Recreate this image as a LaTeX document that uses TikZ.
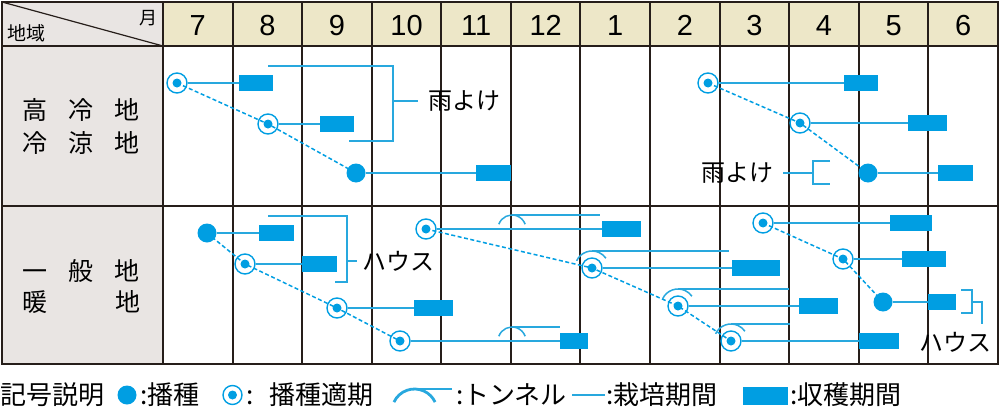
\documentclass[tikz,border=0pt]{standalone}
\usepackage{fontspec}
\setmainfont{Noto Sans CJK JP}
\newfontfamily\numfont{Liberation Sans}
\usepackage{xcolor}
\usepackage{tikz}
\usetikzlibrary{positioning,calc}

\definecolor{cropblue}{RGB}{0,158,226}
\definecolor{lineblue}{RGB}{40,168,222}
\definecolor{gridline}{RGB}{38,30,26}
\definecolor{headfill}{RGB}{237,231,200}
\definecolor{sidefill}{RGB}{233,229,227}

\tikzset{
    sowing/.style={circle, fill=cropblue, minimum size=19pt, inner sep=0pt},
    sowperiod/.style={circle, draw=cropblue, line width=1.4pt, minimum size=20pt, inner sep=0pt,
        path picture={\fill [cropblue] (path picture bounding box.center) circle (4.5pt);}},
    harvest/.style={fill=cropblue, minimum height=15.5pt, inner sep=0pt},
    growing/.style={draw=lineblue, line width=1.5pt},
    sowline/.style={draw=cropblue, line width=1.5pt, dash pattern=on 4pt off 2.5pt},
    gridrule/.style={draw=gridline, line width=2pt},
    txt/.style={font=\fontsize{24}{28}\selectfont, inner sep=0pt},
    legendtxt/.style={font=\fontsize{26}{28}\selectfont, inner sep=0pt, anchor=west},
    month/.style={font=\numfont\fontsize{29}{32}\selectfont, inner sep=0pt},
}

\begin{document}
\begin{tikzpicture}[x=1pt, y=1pt]
    \useasboundingbox (0, 0) rectangle (1000, -415);

    % Table
    \fill [headfill] (163, -2) rectangle (998, -46);
    \fill [sidefill] (2, -2) rectangle (163, -364);
    \foreach \i in {0,...,12} {
        \draw [gridrule] (163+69.58*\i, -2) -- (163+69.58*\i, -364);
    }
    \foreach \y in {2, 46, 206, 364} {
        \draw [gridrule] (1, -\y) -- (999, -\y);
    }
    \draw [gridrule] (2, -2) -- (2, -364);
    \draw [draw=gridline, line width=1.2pt] (2, -2) -- (163, -46);
    \node [txt, font=\fontsize{18}{20}\selectfont] (tsuki) at (148, -18) {月};
    \node [txt, font=\fontsize{19}{21}\selectfont] (chiiki) at (26, -33) {地域};
    \foreach \m [count=\i from 0] in {7, 8, 9, 10, 11, 12, 1, 2, 3, 4, 5, 6} {
        \node [month] (m\m) at (163+69.58*\i+34.8, -25.5) {\m};
    }
    \node [txt, font=\fontsize{25}{28}\selectfont] (cold1) at (81, -109.5) {高\kern21pt冷\kern21pt地};
    \node [txt, font=\fontsize{25}{28}\selectfont] (cold2) at (81, -143) {冷\kern21pt涼\kern21pt地};
    \node [txt, font=\fontsize{25}{28}\selectfont] (warm1) at (81, -271) {一\kern21pt般\kern21pt地};
    \node [txt, font=\fontsize{25}{28}\selectfont] (warm2) at (81, -302) {暖\kern68pt地};

    % Cold areas, summer sowing
    \node [sowperiod] (a1) at (177, -83) {};
    \node [sowperiod] (a2) at (268, -124) {};
    \node [sowing] (a3) at (356, -173) {};
    \node [harvest, minimum width=34pt] (a1h) at (256, -83) {};
    \node [harvest, minimum width=34pt] (a2h) at (337, -124) {};
    \node [harvest, minimum width=35pt] (a3h) at (493.5, -173) {};
    \draw [growing] (a1) -- (a1h);
    \draw [growing] (a2) -- (a2h);
    \draw [growing] (a3) -- (a3h);
    \draw [sowline] (a1.center) -- (a2.center) -- (a3.center);
    \node [txt, anchor=west] (ame1) at (428, -101) {雨よけ};
    \draw [growing] (268, -66) -| (393, -141) -- (349, -141);
    \draw [growing, shorten >=10pt] (393, -101) -- (ame1.west);

    % Cold areas, spring sowing
    \node [sowperiod] (b1) at (708, -83) {};
    \node [sowperiod] (b2) at (800, -123) {};
    \node [sowing] (b3) at (868, -173) {};
    \node [harvest, minimum width=34pt] (b1h) at (861, -83) {};
    \node [harvest, minimum width=39pt] (b2h) at (927.5, -123) {};
    \node [harvest, minimum width=35pt] (b3h) at (955.5, -173) {};
    \draw [growing] (b1) -- (b1h);
    \draw [growing] (b2) -- (b2h);
    \draw [growing] (b3) -- (b3h);
    \draw [sowline] (b1.center) -- (b2.center) -- (b3.center);
    \node [txt] (ame2) at (737, -173) {雨よけ};
    \draw [growing] (830, -161) -- (813, -161) -- (813, -184) -- (830, -184);
    \draw [growing, shorten <=10pt] (ame2.east) -- (813, -173);

    % Warm areas, summer sowing
    \node [sowing] (c1) at (207, -233) {};
    \node [sowperiod] (c2) at (245, -264) {};
    \node [sowperiod] (c3) at (337, -308) {};
    \node [sowperiod] (c4) at (400, -341) {};
    \node [harvest, minimum width=35pt] (c1h) at (276.5, -233) {};
    \node [harvest, minimum width=35pt] (c2h) at (319.5, -264) {};
    \node [harvest, minimum width=39pt] (c3h) at (433.5, -308) {};
    \node [harvest, minimum width=28pt] (c4h) at (574, -341) {};
    \draw [growing] (c1) -- (c1h);
    \draw [growing] (c2) -- (c2h);
    \draw [growing] (c3) -- (c3h);
    \draw [growing] (c4) -- (c4h);
    \draw [sowline] (c1.center) -- (c2.center) -- (c3.center) -- (c4.center);
    \coordinate (c4t) at (512, -341);
    \coordinate (c4e) at (560, -327);
    \draw [growing] ($(c4t)+(160:14)$) arc [start angle=160, end angle=20, radius=14];
    \draw [growing] ($(c4t)+(0, 14)$) -- (c4e);
    \node [txt, anchor=west] (haus1) at (362, -261) {ハウス};
    \draw [growing] (268, -216) -| (347, -282) -- (335, -282);
    \draw [growing, shorten >=5pt] (347, -261) -- (haus1.west);

    % Warm areas, autumn sowing under tunnel
    \node [sowperiod] (d1) at (426, -229) {};
    \node [sowperiod] (d2) at (592, -268) {};
    \node [sowperiod] (d3) at (678, -306) {};
    \node [sowperiod] (d4) at (731, -341) {};
    \node [harvest, minimum width=39pt] (d1h) at (621.5, -229) {};
    \node [harvest, minimum width=48pt] (d2h) at (756, -268) {};
    \node [harvest, minimum width=39pt] (d3h) at (818.5, -306) {};
    \node [harvest, minimum width=40pt] (d4h) at (879, -341) {};
    \draw [growing] (d1) -- (d1h);
    \draw [growing] (d2) -- (d2h);
    \draw [growing] (d3) -- (d3h);
    \draw [growing] (d4) -- (d4h);
    \draw [sowline] (d1.center) -- (d2.center) -- (d3.center) -- (d4.center);
    \coordinate (d1t) at (512, -229);
    \coordinate (d1e) at (600, -215);
    \draw [growing] ($(d1t)+(160:14)$) arc [start angle=160, end angle=20, radius=14];
    \draw [growing] ($(d1t)+(0, 14)$) -- (d1e);
    \coordinate (d2e) at (729, -251);
    \coordinate (d3e) at (789, -289);
    \coordinate (d4e) at (790, -324);
    \foreach \n in {d2, d3, d4} {
        \draw [growing] ($(\n)+(155:17)$) arc [start angle=155, end angle=35, radius=17];
        \draw [growing] ($(\n)+(0, 17)$) -- (\n e);
    }

    % Warm areas, spring sowing
    \node [sowperiod] (e1) at (763, -223) {};
    \node [sowperiod] (e2) at (843, -259) {};
    \node [sowing] (e3) at (883, -302) {};
    \node [harvest, minimum width=42pt] (e1h) at (911, -223) {};
    \node [harvest, minimum width=44pt] (e2h) at (924, -259) {};
    \node [harvest, minimum width=28pt] (e3h) at (942, -302) {};
    \draw [growing] (e1) -- (e1h);
    \draw [growing] (e2) -- (e2h);
    \draw [growing] (e3) -- (e3h);
    \draw [sowline] (e1.center) -- (e2.center) -- (e3.center);
    \node [txt] (haus2) at (955, -342) {ハウス};
    \draw [growing] (961, -290) -- (972, -290) -- (972, -313) -- (961, -313);
    \draw [growing] (972, -302) -- (982, -302) -- (982, -324);

    % Legend
    \node [legendtxt] (kigou) at (0, -395) {記号説明};
    \node [sowing] (lsow) at (127, -395) {};
    \node [legendtxt] (lsowt) at (140, -395) {:播種};
    \node [sowperiod, minimum size=19pt] (lper) at (232.5, -395) {};
    \node [legendtxt] (lpert) at (246, -395) {:\hspace{0.6em}播種適期};
    \coordinate (ltun) at (414.5, -411.7);
    \coordinate (ltune) at (452, -389);
    \draw [growing, line width=2.8pt] ($(ltun)+(155:22.7)$) arc [start angle=155, end angle=25, radius=22.7];
    \draw [growing, line width=2.8pt] ($(ltun)+(0, 22.7)$) -- (ltune);
    \node [legendtxt] (ltunt) at (456, -395) {:トンネル};
    \coordinate (lgrow) at (572, -395);
    \coordinate (lgrowe) at (605, -395);
    \draw [growing, line width=2.8pt] (lgrow) -- (lgrowe);
    \node [legendtxt] (lgrowt) at (606, -395) {:栽培期間};
    \node [harvest, minimum width=45pt, minimum height=18pt] (lharv) at (765.5, -396) {};
    \node [legendtxt] (lharvt) at (790, -395) {:収穫期間};
\end{tikzpicture}
\end{document}
